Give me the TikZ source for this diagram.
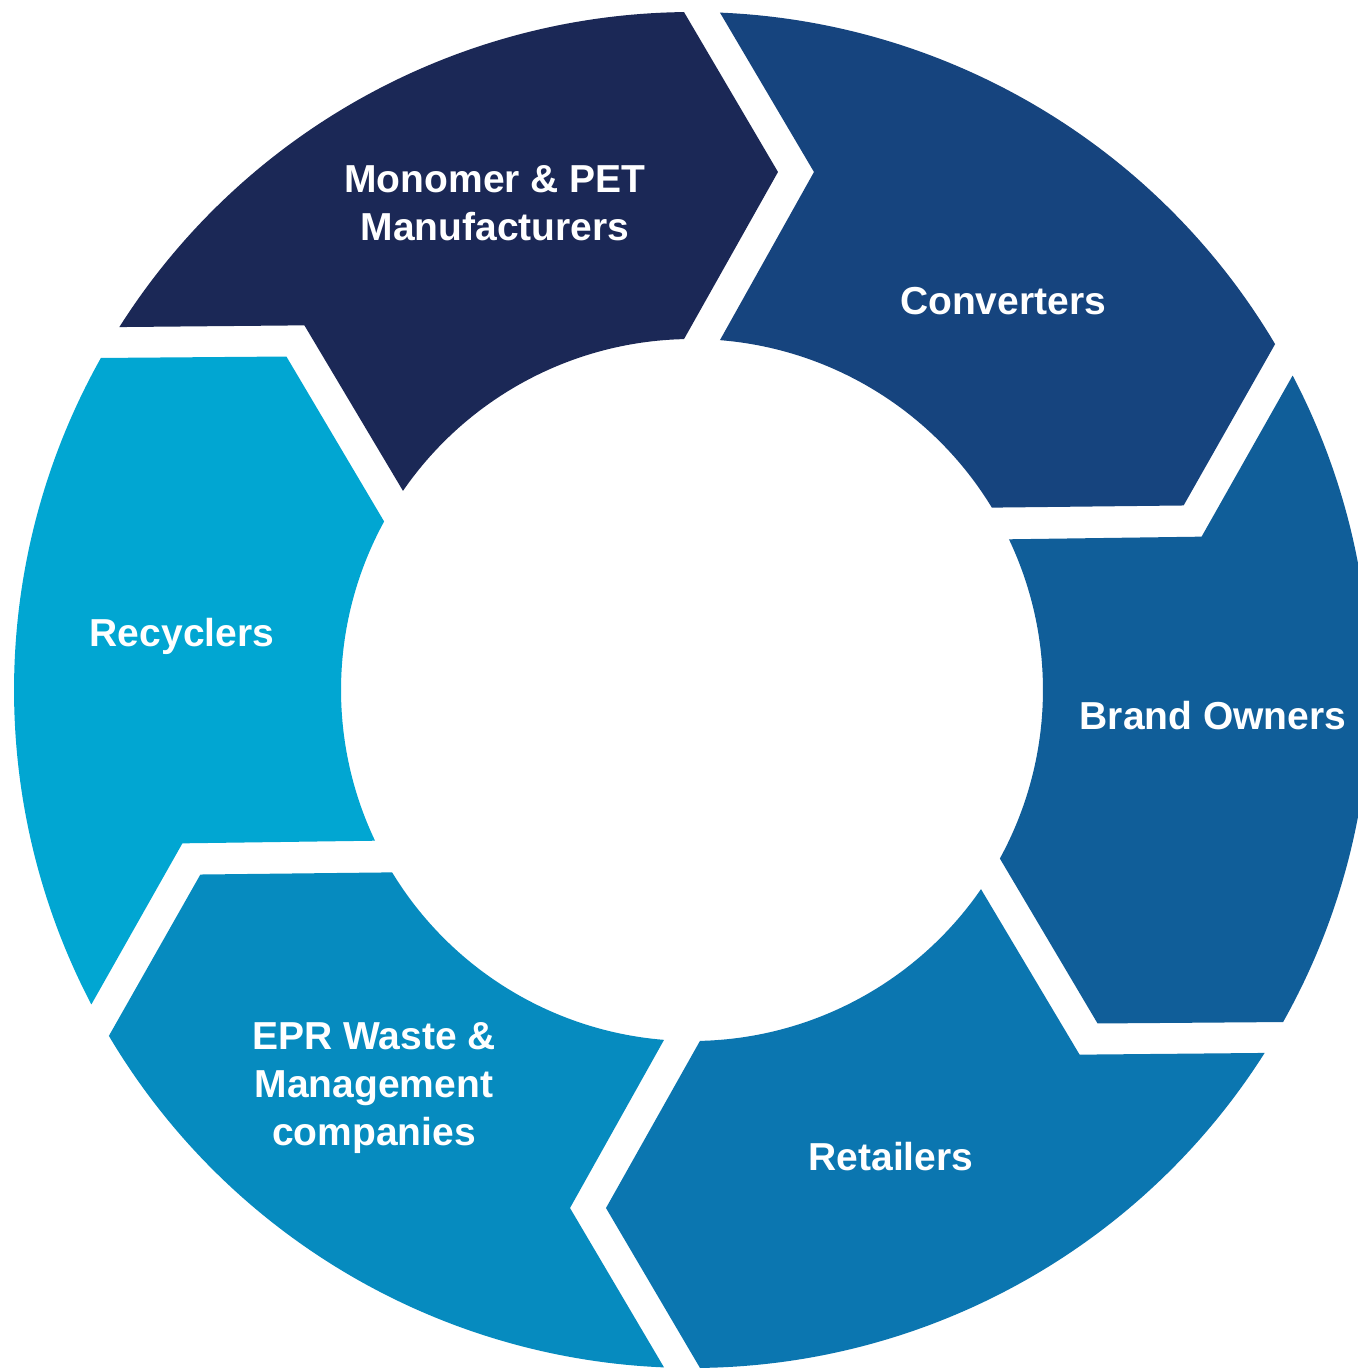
\documentclass[tikz,border=0pt]{standalone}
\usepackage{fontspec}
\setmainfont{Liberation Sans}
\usetikzlibrary{calc}
\definecolor{cMon}{HTML}{1B2856}
\definecolor{cConv}{HTML}{16447E}
\definecolor{cBrand}{HTML}{105E99}
\definecolor{cRet}{HTML}{0B76B0}
\definecolor{cEPR}{HTML}{068BBF}
\definecolor{cRec}{HTML}{01A6D2}
\begin{document}
\begin{tikzpicture}[x=1pt,y=1pt,
  lbl/.style={text=white, font=\fontsize{39}{48}\selectfont\bfseries, align=center, inner sep=0pt}]
\clip (-692,-679) rectangle (666,690);
\fill[white] (-692,-679) rectangle (666,690);
\foreach \a/\c in {150/cMon, 90/cConv, 30/cBrand, -30/cRet, -90/cEPR, -150/cRec} {
  \fill[\c] (\a-2.366:678pt) -- ($(\a:518pt)+(\a-90:122pt)$) -- (\a-4.571:351pt)
    arc[start angle=\a-4.571, end angle=\a-58.694, radius=351pt]
    -- ($(\a-60:518pt)+(\a-150:86pt)$) -- (\a-59.324:678pt)
    arc[start angle=\a-59.324, end angle=\a-2.366, radius=678pt] -- cycle;
}
\node[lbl] (mon) at (-197,487) {Monomer \& PET\\Manufacturers};
\node[lbl, anchor=base] (conv) at (311,375) {Converters};
\node[lbl, anchor=base] (brand) at (521,-39) {Brand Owners};
\node[lbl, anchor=base] (ret) at (199,-480) {Retailers};
\node[lbl] (epr) at (-318,-398) {EPR Waste \&\\Management\\companies};
\node[lbl, anchor=base] (rec) at (-510,44) {Recyclers};
\end{tikzpicture}
\end{document}
